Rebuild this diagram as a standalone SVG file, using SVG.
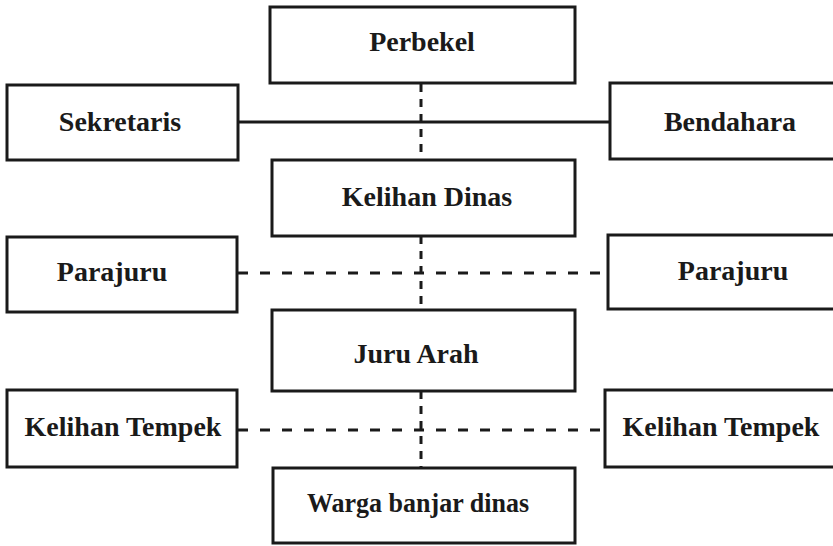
<svg xmlns="http://www.w3.org/2000/svg" width="833" height="546" viewBox="0 0 833 546">
<style>
.box{fill:#fff;stroke:#1a1a1a;stroke-width:3}
.t{font-family:"Liberation Serif","DejaVu Serif",serif;font-weight:bold;font-size:28px;fill:#1a1a1a;text-anchor:middle}
.solid{stroke:#1a1a1a;stroke-width:3;fill:none}
.dv{stroke:#1a1a1a;stroke-width:3;fill:none;stroke-dasharray:8 7}
.dh{stroke:#1a1a1a;stroke-width:3;fill:none;stroke-dasharray:10 12}
</style>
<rect width="833" height="546" fill="#fff"/>
<g id="connectors">
<line class="solid" x1="238" y1="122" x2="610" y2="122"/>
<line class="dv" x1="421" y1="84" x2="421" y2="160"/>
<line class="dv" x1="421" y1="236" x2="421" y2="310"/>
<line class="dv" x1="421" y1="391" x2="421" y2="468"/>
<line class="dh" x1="238" y1="273" x2="608" y2="273"/>
<line class="dh" x1="238" y1="430" x2="605" y2="430"/>
</g>
<g id="perbekel"><rect class="box" x="270" y="7" width="305" height="76"/><text class="t" x="422" y="51">Perbekel</text></g>
<g id="sekretaris"><rect class="box" x="7" y="85" width="231" height="75"/><text class="t" x="120" y="131">Sekretaris</text></g>
<g id="bendahara"><rect class="box" x="610" y="83" width="226" height="76"/><text class="t" x="730" y="131">Bendahara</text></g>
<g id="kelihan-dinas"><rect class="box" x="272" y="160" width="303" height="76"/><text class="t" x="427" y="206">Kelihan Dinas</text></g>
<g id="parajuru-left"><rect class="box" x="7" y="237" width="230" height="75"/><text class="t" x="112" y="281">Parajuru</text></g>
<g id="parajuru-right"><rect class="box" x="608" y="235" width="228" height="74"/><text class="t" x="733" y="280">Parajuru</text></g>
<g id="juru-arah"><rect class="box" x="272" y="310" width="303" height="81"/><text class="t" x="416" y="363">Juru Arah</text></g>
<g id="kelihan-tempek-left"><rect class="box" x="7" y="390" width="230" height="77"/><text class="t" x="123" y="436">Kelihan Tempek</text></g>
<g id="kelihan-tempek-right"><rect class="box" x="605" y="390" width="231" height="77"/><text class="t" x="721" y="436">Kelihan Tempek</text></g>
<g id="warga-banjar-dinas"><rect class="box" x="273" y="468" width="302" height="75"/><text class="t" x="418" y="512" textLength="222" lengthAdjust="spacingAndGlyphs">Warga banjar dinas</text></g>
</svg>
